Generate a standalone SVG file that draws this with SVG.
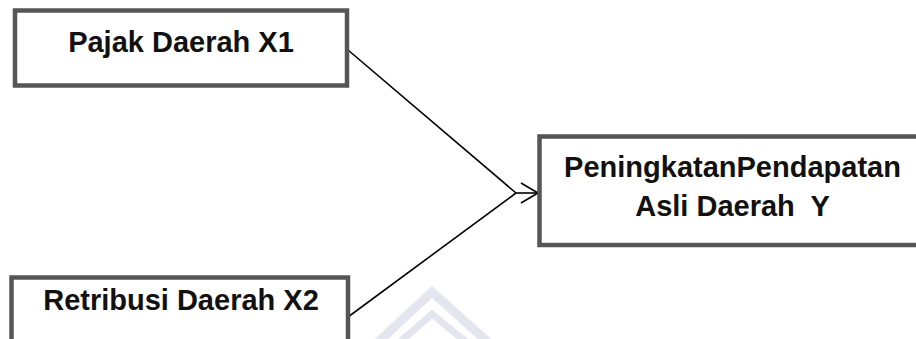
<svg xmlns="http://www.w3.org/2000/svg" width="916" height="339" viewBox="0 0 916 339">
  <style>
    .box { fill: #ffffff; stroke: #555555; stroke-width: 4.5; }
    .label { font-family: "Liberation Sans", Arial, sans-serif; font-weight: bold; font-size: 29px; fill: #111111; text-anchor: middle; white-space: pre; }
    .wire { fill: none; stroke: #000000; stroke-width: 1.6; }
    .mark { fill: none; stroke: #e3e3ee; stroke-linejoin: miter; }
  </style>
  <defs>
    <marker id="openArrow" markerUnits="userSpaceOnUse" markerWidth="20" markerHeight="24" refX="18" refY="11" orient="auto">
      <path d="M1,1 L18,11 L1,21" fill="none" stroke="#000000" stroke-width="1.6"/>
    </marker>
  </defs>

  <rect width="916" height="339" fill="#ffffff"/>

  <!-- faint emblem behind the lower connector -->
  <g id="emblem" opacity="0.9">
    <path class="mark" stroke-width="9" d="M378,342 L432,292 L488,342"/>
    <path class="mark" stroke-width="7" d="M400,342 L432,314 L466,342"/>
  </g>

  <g id="connectors">
    <path class="wire" d="M348,50 L516,193"/>
    <path class="wire" d="M348,317 L516,193"/>
    <path class="wire" d="M516,193 L538,193" marker-end="url(#openArrow)"/>
  </g>

  <g id="pajak-daerah">
    <rect class="box" x="15" y="10.5" width="332" height="75"/>
    <text class="label" x="181" y="52">Pajak Daerah X1</text>
  </g>

  <g id="retribusi-daerah">
    <rect class="box" x="11.5" y="277.5" width="336.5" height="80"/>
    <text class="label" x="181" y="310">Retribusi Daerah X2</text>
  </g>

  <g id="pendapatan-asli-daerah">
    <rect class="box" x="539.5" y="136.5" width="400" height="108.5"/>
    <text class="label" x="732.5" y="177">PeningkatanPendapatan</text>
    <text class="label" x="732.5" y="216">Asli Daerah  Y</text>
  </g>
</svg>
